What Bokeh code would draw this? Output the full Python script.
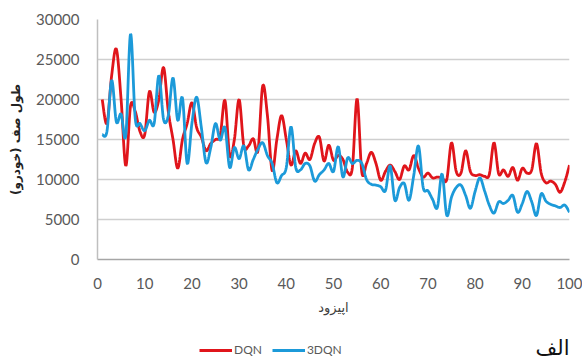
import numpy as np
from bokeh.plotting import figure
from bokeh.layouts import column
from bokeh.models import Legend, LegendItem, Label, Range1d, FixedTicker, ColumnDataSource
from bokeh.embed import file_html
from bokeh.resources import INLINE

episodes = list(range(1, 101))
dqn = [20000, 17000, 23000, 26300, 20000, 11700, 19200, 18500, 16000, 15600,
       21000, 18400, 20000, 24000, 18500, 15000, 11400, 15000, 17000, 19600,
       16500, 15300, 13600, 14500, 15000, 15500, 19900, 13000, 15000, 20000,
       14200, 14200, 15100, 13600, 21700, 18000, 11100, 15000, 18000, 15000,
       11800, 13600, 12000, 13300, 12500, 14500, 15300, 12300, 14300, 12400,
       13000, 12500, 10900, 11500, 20100, 10900, 12000, 13400, 12000, 9900,
       11000, 11800, 11000, 10000, 11700, 11200, 13000, 11400, 10300, 10800,
       10200, 10300, 10200, 10000, 14600, 11000, 10800, 13600, 11000, 10500,
       10600, 10400, 10600, 14600, 10700, 11200, 10400, 11500, 9900, 11400,
       10800, 11200, 14500, 10800, 9600, 9800, 9400, 8400, 9700, 11800]
d3qn = [15600, 16000, 22400, 17200, 18200, 15500, 28200, 17600, 17000, 16100,
        17400, 17000, 23000, 17500, 18000, 22700, 17400, 20200, 12000, 17000,
        20300, 16500, 12100, 14000, 17000, 14900, 16500, 11500, 14000, 12600,
        14200, 11200, 12500, 13800, 14600, 13000, 12000, 9600, 10500, 11500,
        16600, 11500, 11200, 12000, 11700, 9800, 10600, 11200, 12000, 11000,
        14100, 10300, 12700, 12000, 12400, 12000, 10000, 9400, 9300, 9100,
        8600, 11700, 7400, 9000, 9500, 7400, 10500, 14200, 9000, 8600,
        7500, 6500, 10700, 5500, 7800, 9000, 9300, 8000, 6400, 8500,
        10200, 8600, 6800, 5800, 7200, 7000, 7400, 8000, 5900, 7000,
        8500, 7200, 5500, 8200, 7300, 6900, 6700, 6500, 6800, 5900]
series_names = ["DQN", "3DQN"]
x_ticks = list(range(0, 101, 10))
y_ticks = list(range(0, 30001, 5000))


def smooth(xs, ys, n=12):
    """Excel-like smoothed line (Catmull-Rom / cubic Bezier) for display."""
    xs = np.asarray(xs, float)
    ys = np.asarray(ys, float)
    px = np.concatenate([[xs[0]], xs, [xs[-1]]])
    py = np.concatenate([[ys[0]], ys, [ys[-1]]])
    outx, outy = [], []
    t = np.linspace(0, 1, n, endpoint=False)
    for i in range(1, len(px) - 2):
        p0 = np.array([px[i], py[i]])
        p3 = np.array([px[i + 1], py[i + 1]])
        c1 = p0 + (p3 - np.array([px[i - 1], py[i - 1]])) / 6.0
        c2 = p3 - (np.array([px[i + 2], py[i + 2]]) - p0) / 6.0
        for tt in t:
            b = ((1 - tt) ** 3) * p0 + 3 * ((1 - tt) ** 2) * tt * c1 + 3 * (1 - tt) * tt * tt * c2 + tt ** 3 * p3
            outx.append(b[0])
            outy.append(b[1])
    outx.append(xs[-1])
    outy.append(ys[-1])
    return outx, outy


p = figure(width=582, height=332, output_backend="svg", toolbar_location=None,
           x_range=Range1d(0, 100), y_range=Range1d(0, 30000),
           min_border_left=97, min_border_right=13, min_border_top=19, min_border_bottom=73)
p.outline_line_color = None
p.background_fill_color = "white"
p.border_fill_color = "white"

p.xgrid.grid_line_color = None
p.ygrid.grid_line_color = "#cfcfcf"
p.ygrid.grid_line_width = 1.5
p.ygrid.ticker = FixedTicker(ticks=y_ticks)

p.xaxis.ticker = FixedTicker(ticks=x_ticks)
p.yaxis.ticker = FixedTicker(ticks=y_ticks)
for ax in (p.xaxis, p.yaxis):
    ax.major_tick_line_color = None
    ax.minor_tick_line_color = None
    ax.major_label_text_font = "Lato"
    ax.major_label_text_font_size = "15px"
    ax.major_label_text_color = "#595959"
    ax.major_label_standoff = 12
    ax.axis_label_text_font = "DejaVu Sans"
    ax.axis_label_text_font_style = "normal"
p.xaxis.axis_line_color = "#a6a6a6"
p.xaxis.axis_line_width = 1.5
p.yaxis.axis_line_color = "#bfbfbf"
p.yaxis.axis_line_width = 1.5

p.xaxis.axis_label = "اپیزود"
p.xaxis.axis_label_text_font_size = "13px"
p.xaxis.axis_label_text_color = "#404040"
p.xaxis.axis_label_standoff = 8
p.yaxis.axis_label = "طول صف (خودرو)"
p.yaxis.axis_label_text_font_size = "12px"
p.yaxis.axis_label_text_font_style = "bold"
p.yaxis.axis_label_text_color = "#222222"
p.yaxis.axis_label_standoff = 10

colors = ["#e0151b", "#1c9ad9"]
for name, vals, col in zip(series_names, [dqn, d3qn], colors):
    sx, sy = smooth(episodes, vals)
    p.line("x", "y", source=ColumnDataSource(dict(x=sx, y=sy)), line_color=col, line_width=2.8)

# Legend strip below the chart (its own small figure; its frame lines up with the chart's frame)
p2 = figure(width=582, height=28, output_backend="svg", toolbar_location=None,
            x_range=Range1d(0, 472), y_range=Range1d(0, 28),
            x_axis_type=None, y_axis_type=None,
            min_border_left=97, min_border_right=13, min_border_top=0, min_border_bottom=0)
p2.outline_line_color = None
p2.grid.visible = False
leg_renderers = []
for name, vals, col in zip(series_names, [dqn, d3qn], colors):
    # same series, outside this strip's visible range; used only as legend keys
    r = p2.line(episodes, vals, line_color=col, line_width=2.8)
    leg_renderers.append((name, r))

legend = Legend(items=[LegendItem(label=n, renderers=[r]) for n, r in leg_renderers],
                location=(102, 3), orientation="horizontal",
                glyph_width=33, glyph_height=14, label_standoff=2, spacing=10,
                padding=0, margin=0, border_line_color=None, background_fill_alpha=0,
                label_text_font="Lato", label_text_font_size="12px", label_text_color="#595959",
                label_height=14)
p2.add_layout(legend, "center")
p2.add_layout(Label(x=472, y=1, text="الف", text_baseline="bottom", text_align="right",
                    text_font="DejaVu Sans", text_font_size="21px", text_color="#111111"))

open("out.html", "w").write(file_html(column(p, p2, spacing=0), INLINE))
